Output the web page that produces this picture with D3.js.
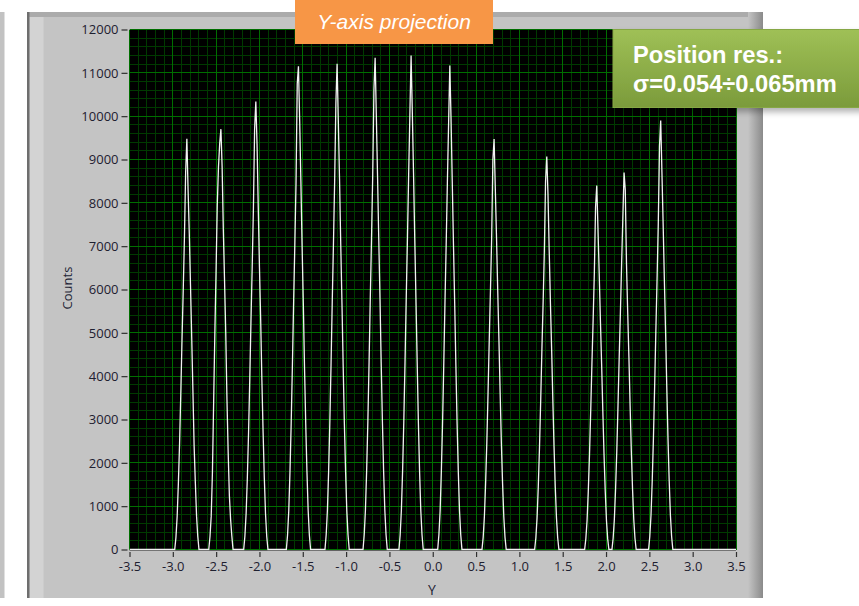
<!DOCTYPE html>
<html>
<head>
<meta charset="utf-8">
<script src="https://cdn.jsdelivr.net/npm/d3@7/dist/d3.min.js"></script>
<style>
  html, body { margin: 0; padding: 0; background: #ffffff; }
  svg { display: block; }
</style>
</head>
<body>
<svg id="chart" width="859" height="606"></svg>
<script>
// Y-axis projection histogram: 13 wire peaks, counts per bin of width binWidth (mm)
const binWidth = 0.014;

// Position (mm) of the highest bin of each peak
const peakCentres = [-2.838, -2.445, -2.042, -1.550, -1.104, -0.665, -0.250,
                     0.197, 0.708, 1.316, 1.893, 2.208, 2.631];

// Counts in 21 consecutive bins around each peak (the 11th bin is the peak bin)
const peak1  = [0, 280, 760, 1520, 2460, 3600, 4840, 5970, 7200, 8700, 9480, 8300, 7300, 6100, 4900, 3650, 2380, 1540, 770, 300, 0];
const peak2  = [0, 300, 770, 1770, 3380, 4990, 6410, 7950, 8830, 9370, 9700, 8830, 7370, 6200, 4990, 3450, 2230, 1230, 690, 310, 0];
const peak3  = [0, 310, 830, 1650, 2690, 3930, 5270, 6510, 7860, 9700, 10340, 9350, 7900, 6500, 5300, 3900, 2700, 1650, 820, 300, 0];
const peak4  = [0, 330, 890, 1780, 2900, 4240, 5690, 7020, 8470, 10750, 11150, 9900, 8500, 7000, 5700, 4200, 2900, 1800, 900, 330, 0];
const peak5  = [0, 340, 900, 1790, 2920, 4260, 5720, 7060, 8520, 10300, 11210, 9900, 8550, 7050, 5700, 4250, 2900, 1800, 900, 340, 0];
const peak6  = [0, 340, 910, 1820, 2950, 4310, 5790, 7150, 8630, 10600, 11350, 9990, 8600, 7150, 5800, 4300, 2950, 1800, 900, 340, 0];
const peak7  = [0, 340, 910, 1820, 2960, 4330, 5810, 7180, 8660, 10030, 11400, 10100, 8700, 7200, 5800, 4350, 2950, 1800, 900, 340, 0];
const peak8  = [0, 340, 890, 1790, 2900, 4250, 5700, 7040, 8490, 9830, 11170, 9950, 8500, 7050, 5700, 4250, 2900, 1790, 890, 340, 0];
const peak9  = [0, 280, 760, 1520, 2460, 3600, 4830, 5970, 7200, 9000, 9470, 8330, 7200, 5970, 4830, 3600, 2460, 1520, 760, 280, 0];
const peak10 = [0, 270, 730, 1450, 2360, 3450, 4630, 5710, 6890, 8500, 9070, 8200, 6900, 5700, 4630, 3450, 2360, 1450, 730, 270, 0];
const peak11 = [0, 250, 670, 1340, 2180, 3190, 4280, 5290, 6380, 7900, 8400, 7400, 6380, 5290, 4280, 3190, 2180, 1340, 670, 250, 0];
const peak12 = [0, 260, 700, 1390, 2260, 3310, 4440, 5480, 6610, 7660, 8700, 8300, 6600, 5480, 4440, 3310, 2260, 1390, 700, 260, 0];
const peak13 = [0, 300, 790, 1580, 2570, 3760, 5050, 6240, 7520, 9300, 9900, 8710, 7520, 6240, 5050, 3760, 2570, 1580, 790, 300, 0];
const peakCounts = [peak1, peak2, peak3, peak4, peak5, peak6, peak7,
                    peak8, peak9, peak10, peak11, peak12, peak13];

// Axes
const xTicks = [-3.5, -3.0, -2.5, -2.0, -1.5, -1.0, -0.5, 0.0, 0.5, 1.0, 1.5, 2.0, 2.5, 3.0, 3.5];
const xTickLabels = ["-3.5", "-3.0", "-2.5", "-2.0", "-1.5", "-1.0", "-0.5", "0.0",
                     "0.5", "1.0", "1.5", "2.0", "2.5", "3.0", "3.5"];
const yTicks = [0, 1000, 2000, 3000, 4000, 5000, 6000, 7000, 8000, 9000, 10000, 11000, 12000];
const yTickLabels = ["0", "1000", "2000", "3000", "4000", "5000", "6000", "7000",
                     "8000", "9000", "10000", "11000", "12000"];
const xTitle = "Y";
const yTitle = "Counts";
const bannerTitle = "Y-axis projection";
const noteLines = ["Position res.:", "\u03c3=0.054\u00f70.065mm"];

const svg = d3.select("#chart");
const plot = { left: 129.5, right: 736, top: 29.5, bottom: 549.5 };

const x = d3.scaleLinear().domain([-3.5, 3.5]).range([plot.left, plot.right]);
const y = d3.scaleLinear().domain([0, 12000]).range([plot.bottom, plot.top]);

const defs = svg.append("defs");
const bevel = defs.append("linearGradient").attr("id", "bevel").attr("x1", 0).attr("x2", 1).attr("y1", 0).attr("y2", 0);
bevel.append("stop").attr("offset", "0%").attr("stop-color", "#c4c4c4");
bevel.append("stop").attr("offset", "100%").attr("stop-color", "#8a8a8a");
const green = defs.append("linearGradient").attr("id", "greenFill").attr("x1", 0).attr("x2", 0).attr("y1", 0).attr("y2", 1);
green.append("stop").attr("offset", "0%").attr("stop-color", "#9fc056");
green.append("stop").attr("offset", "100%").attr("stop-color", "#7b9b3b");
const shadow = defs.append("filter").attr("id", "shadow").attr("x", "-10%").attr("y", "-10%").attr("width", "130%").attr("height", "140%");
shadow.append("feDropShadow").attr("dx", 2).attr("dy", 4).attr("stdDeviation", 3)
  .attr("flood-color", "#000").attr("flood-opacity", 0.3);
defs.append("clipPath").attr("id", "plotClip").append("rect")
  .attr("x", plot.left).attr("y", plot.top - 1)
  .attr("width", plot.right - plot.left).attr("height", plot.bottom - plot.top + 2);

// Panel frame
svg.append("rect").attr("x", 0).attr("y", 12).attr("width", 4.5).attr("height", 586).attr("fill", "#c2c2c2");
svg.append("rect").attr("x", 27).attr("y", 12).attr("width", 736).attr("height", 586).attr("fill", "#c4c4c4");
svg.append("rect").attr("x", 27).attr("y", 12).attr("width", 736).attr("height", 5).attr("fill", "#ababab");
svg.append("rect").attr("x", 29.5).attr("y", 17).attr("width", 14).attr("height", 581).attr("fill", "#d3d3d3");
svg.append("rect").attr("x", 27).attr("y", 12).attr("width", 2.5).attr("height", 586).attr("fill", "#6e6e6e");
svg.append("rect").attr("x", 748).attr("y", 12).attr("width", 15).attr("height", 586).attr("fill", "url(#bevel)");

// Plot background and grid
svg.append("rect").attr("x", plot.left).attr("y", plot.top)
  .attr("width", plot.right - plot.left).attr("height", plot.bottom - plot.top + 1).attr("fill", "#000000");

const minorX = d3.range(-3.5, 3.5001, 0.1).filter(v => Math.abs(v * 2 - Math.round(v * 2)) > 1e-6);
const minorY = d3.range(0, 12001, 200).filter(v => v % 1000 !== 0);
const grid = svg.append("g").attr("shape-rendering", "crispEdges");
grid.selectAll(".mx").data(minorX).join("line")
  .attr("x1", d => x(d)).attr("x2", d => x(d)).attr("y1", plot.top).attr("y2", plot.bottom)
  .attr("stroke", "#003a00").attr("stroke-width", 1);
grid.selectAll(".my").data(minorY).join("line")
  .attr("x1", plot.left).attr("x2", plot.right).attr("y1", d => y(d)).attr("y2", d => y(d))
  .attr("stroke", "#003a00").attr("stroke-width", 1);
grid.selectAll(".Mx").data(xTicks).join("line")
  .attr("x1", d => x(d)).attr("x2", d => x(d)).attr("y1", plot.top).attr("y2", plot.bottom)
  .attr("stroke", "#006e00").attr("stroke-width", 1);
grid.selectAll(".My").data(yTicks).join("line")
  .attr("x1", plot.left).attr("x2", plot.right).attr("y1", d => y(d)).attr("y2", d => y(d))
  .attr("stroke", "#006e00").attr("stroke-width", 1);

// Trace: zero baseline between peaks, bins of each peak
const points = [[-3.5, 0]];
peakCentres.forEach((c, k) => {
  peakCounts[k].forEach((n, i) => points.push([c + (i - 10) * binWidth, n]));
});
points.push([3.5, 0]);

svg.append("path")
  .datum(points)
  .attr("clip-path", "url(#plotClip)")
  .attr("fill", "none")
  .attr("stroke", "#f2f2f2")
  .attr("stroke-width", 1.3)
  .attr("stroke-linejoin", "miter")
  .attr("d", d3.line().x(d => x(d[0])).y(d => y(d[1])));

// Axes
const tickFont = "'Open Sans', 'Noto Sans', sans-serif";
const yAxis = svg.append("g").attr("transform", "translate(127.5,0)")
  .call(d3.axisLeft(y).tickValues(yTicks).tickFormat((d, i) => yTickLabels[i]).tickSize(6).tickPadding(3));
const xAxis = svg.append("g").attr("transform", `translate(0,${plot.bottom + 2.5})`)
  .call(d3.axisBottom(x).tickValues(xTicks).tickFormat((d, i) => xTickLabels[i]).tickSize(5).tickPadding(5));
[yAxis, xAxis].forEach(g => {
  g.select(".domain").remove();
  g.selectAll(".tick line").attr("stroke", "#303030").attr("stroke-width", 1.2);
  g.selectAll(".tick text").attr("fill", "#1e2030").attr("font-family", tickFont).attr("font-size", 13);
});

svg.append("text").attr("x", 432).attr("y", 594.5).attr("text-anchor", "middle")
  .attr("font-family", tickFont).attr("font-size", 14).attr("fill", "#1e2436").text(xTitle);
svg.append("text").attr("transform", "translate(71.5,288) rotate(-90)").attr("text-anchor", "middle")
  .attr("font-family", tickFont).attr("font-size", 13).attr("fill", "#1e2436").text(yTitle);

// Banner
svg.append("rect").attr("x", 295).attr("y", 0).attr("width", 198).attr("height", 44).attr("fill", "#f79646");
svg.append("text").attr("x", 394).attr("y", 29.3).attr("text-anchor", "middle")
  .attr("font-family", "'Liberation Sans', Arial, sans-serif").attr("font-style", "italic")
  .attr("font-size", 21).attr("fill", "#ffffff").text(bannerTitle);

// Resolution note
svg.append("rect").attr("x", 613).attr("y", 29.5).attr("width", 252).attr("height", 78)
  .attr("fill", "url(#greenFill)").attr("stroke", "#86a744").attr("stroke-width", 1)
  .attr("filter", "url(#shadow)");
svg.selectAll(".note").data(noteLines).join("text")
  .attr("x", 633).attr("y", (d, i) => 63.3 + i * 28.4)
  .attr("font-family", "'Liberation Sans', Arial, sans-serif").attr("font-weight", "bold")
  .attr("font-size", 23.7).attr("fill", "#ffffff").text(d => d);
</script>
</body>
</html>
